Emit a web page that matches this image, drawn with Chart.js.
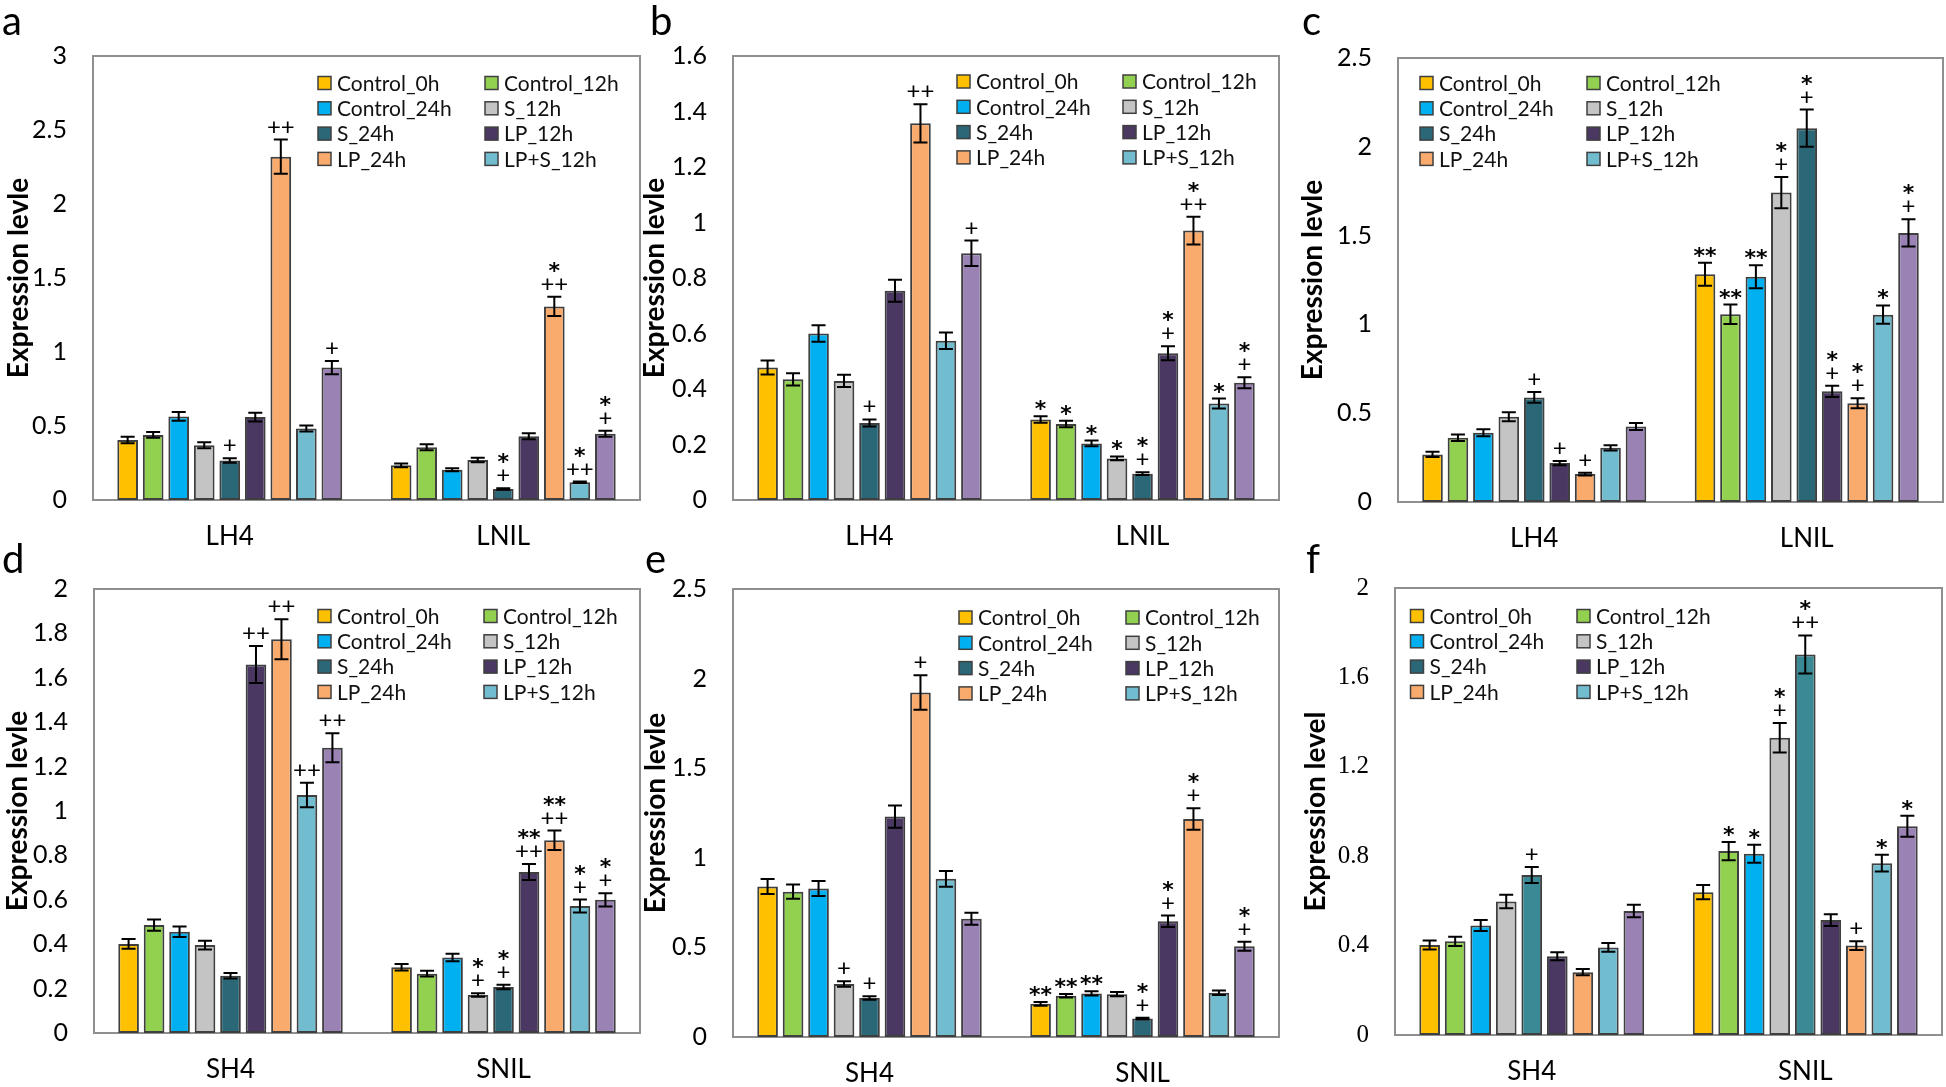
<!DOCTYPE html>
<html>
<head>
<meta charset="utf-8">
<script src="https://cdn.jsdelivr.net/npm/chart.js@4.4.1/dist/chart.umd.min.js"></script>
<style>
  body { margin: 0; background: #fff; width: 1946px; height: 1087px; position: relative; overflow: hidden; }
  .panel { position: absolute; }
  .tag { position: absolute; font: 40px Lato, sans-serif; line-height: 40px; color: #000; }
</style>
</head>
<body>
<script>
// series (9 bars per group, the last one has no legend entry in the original)
const seriesNames = ['Control_0h', 'Control_12h', 'Control_24h', 'S_12h', 'S_24h', 'LP_12h', 'LP_24h', 'LP+S_12h', 'LP+S_24h'];
const seriesColors = ['#FFC000', '#92D050', '#00B0F0', '#C4C4C4', '#2A6878', '#4A3862', '#F9AB6E', '#72BCD0', '#9A82B5'];

// a
const a_cats = ['LH4', 'LNIL'];
const a_ticks = [0, 0.5, 1, 1.5, 2, 2.5, 3];
const a_LH4 = [0.405, 0.44, 0.565, 0.37, 0.267, 0.56, 2.32, 0.483, 0.895];
const a_LH4_err = [0.022, 0.02, 0.03, 0.02, 0.015, 0.03, 0.115, 0.02, 0.045];
const a_LH4_sig = ['', '', '', '', '+', '', '++', '', '+'];
const a_LNIL = [0.234, 0.356, 0.204, 0.27, 0.075, 0.431, 1.308, 0.12, 0.448];
const a_LNIL_err = [0.012, 0.02, 0.01, 0.015, 0.005, 0.02, 0.065, 0.005, 0.02];
const a_LNIL_sig = ['', '', '', '', '*\n+', '', '*\n++', '*\n++', '*\n+'];

// b
const b_cats = ['LH4', 'LNIL'];
const b_ticks = [0, 0.2, 0.4, 0.6, 0.8, 1, 1.2, 1.4, 1.6];
const b_LH4 = [0.4775, 0.435, 0.60, 0.429, 0.2775, 0.754, 1.3575, 0.574, 0.889];
const b_LH4_err = [0.025, 0.022, 0.03, 0.022, 0.013, 0.04, 0.069, 0.03, 0.046];
const b_LH4_sig = ['', '', '', '', '+', '', '++', '', '+'];
const b_LNIL = [0.29, 0.274, 0.204, 0.15, 0.095, 0.529, 0.971, 0.3475, 0.4225];
const b_LNIL_err = [0.012, 0.012, 0.01, 0.007, 0.005, 0.025, 0.05, 0.018, 0.02];
const b_LNIL_sig = ['*', '*', '*', '*', '*\n+', '*\n+', '*\n++', '*', '*\n+'];

// c
const c_cats = ['LH4', 'LNIL'];
const c_ticks = [0, 0.5, 1, 1.5, 2, 2.5];
const c_LH4 = [0.268, 0.362, 0.39, 0.48, 0.589, 0.219, 0.157, 0.305, 0.425];
const c_LH4_err = [0.015, 0.018, 0.02, 0.025, 0.03, 0.012, 0.008, 0.015, 0.02];
const c_LH4_sig = ['', '', '', '', '+', '+', '+', '', ''];
const c_LNIL = [1.282, 1.057, 1.268, 1.742, 2.105, 0.623, 0.556, 1.055, 1.515];
const c_LNIL_err = [0.065, 0.055, 0.065, 0.088, 0.105, 0.032, 0.028, 0.052, 0.077];
const c_LNIL_sig = ['**', '**', '**', '*\n+', '*\n+', '*\n+', '*\n+', '*', '*\n+'];

// d
const d_cats = ['SH4', 'SNIL'];
const d_ticks = [0, 0.2, 0.4, 0.6, 0.8, 1, 1.2, 1.4, 1.6, 1.8, 2];
const d_SH4 = [0.401, 0.486, 0.456, 0.396, 0.258, 1.66, 1.774, 1.072, 1.285];
const d_SH4_err = [0.022, 0.025, 0.024, 0.02, 0.012, 0.083, 0.09, 0.055, 0.065];
const d_SH4_sig = ['', '', '', '', '', '++', '++', '++', '++'];
const d_SNIL = [0.296, 0.267, 0.34, 0.171, 0.2075, 0.725, 0.868, 0.572, 0.6];
const d_SNIL_err = [0.015, 0.013, 0.017, 0.008, 0.01, 0.036, 0.044, 0.029, 0.03];
const d_SNIL_sig = ['', '', '', '*\n+', '*\n+', '**\n++', '**\n++', '*\n+', '*\n+'];

// e
const e_cats = ['SH4', 'SNIL'];
const e_ticks = [0, 0.5, 1, 1.5, 2, 2.5];
const e_SH4 = [0.84, 0.811, 0.829, 0.296, 0.218, 1.23, 1.922, 0.883, 0.66];
const e_SH4_err = [0.042, 0.04, 0.042, 0.015, 0.01, 0.062, 0.096, 0.044, 0.033];
const e_SH4_sig = ['', '', '', '+', '+', '', '+', '', ''];
const e_SNIL = [0.185, 0.23, 0.243, 0.239, 0.103, 0.646, 1.216, 0.247, 0.506];
const e_SNIL_err = [0.01, 0.01, 0.012, 0.012, 0.005, 0.032, 0.06, 0.012, 0.025];
const e_SNIL_sig = ['**', '**', '**', '', '*\n+', '*\n+', '*\n+', '', '*\n+'];

// f
const f_cats = ['SH4', 'SNIL'];
const f_ticks = [0, 0.4, 0.8, 1.2, 1.6, 2];
const f_SH4 = [0.403, 0.419, 0.49, 0.597, 0.716, 0.352, 0.281, 0.392, 0.555];
const f_SH4_err = [0.02, 0.021, 0.025, 0.03, 0.036, 0.018, 0.014, 0.02, 0.028];
const f_SH4_sig = ['', '', '', '', '+', '', '', '', ''];
const f_SNIL = [0.639, 0.823, 0.811, 1.33, 1.703, 0.514, 0.4, 0.769, 0.934];
const f_SNIL_err = [0.032, 0.041, 0.04, 0.066, 0.085, 0.026, 0.02, 0.038, 0.047];
const f_SNIL_sig = ['', '*', '*', '*\n+', '*\n++', '', '+', '*', '*'];

// layout of each panel: plot box in page pixels, y title centre, legend offsets
const panels = [
  { tag: 'a', tagX: 2, tagY: 0, cats: a_cats, ticks: a_ticks, vals: [a_LH4, a_LNIL], errs: [a_LH4_err, a_LNIL_err], sigs: [a_LH4_sig, a_LNIL_sig],
    title: 'Expression levle', box: { l: 93, t: 56, r: 640, b: 500 }, titleX: 19, leg: [225, 392, 27] },
  { tag: 'b', tagX: 650, tagY: 0, cats: b_cats, ticks: b_ticks, vals: [b_LH4, b_LNIL], errs: [b_LH4_err, b_LNIL_err], sigs: [b_LH4_sig, b_LNIL_sig],
    title: 'Expression levle', box: { l: 733, t: 56, r: 1279, b: 500 }, titleX: 655, leg: [224, 390, 25.5] },
  { tag: 'c', tagX: 1302, tagY: 0, cats: c_cats, ticks: c_ticks, vals: [c_LH4, c_LNIL], errs: [c_LH4_err, c_LNIL_err], sigs: [c_LH4_sig, c_LNIL_sig],
    title: 'Expression levle', box: { l: 1398, t: 58, r: 1943, b: 502 }, titleX: 1313, leg: [22, 189, 25] },
  { tag: 'd', tagX: 2, tagY: 538, cats: d_cats, ticks: d_ticks, vals: [d_SH4, d_SNIL], errs: [d_SH4_err, d_SNIL_err], sigs: [d_SH4_sig, d_SNIL_sig],
    title: 'Expression levle', box: { l: 94, t: 589, r: 640, b: 1033 }, titleX: 18, leg: [224, 390, 27] },
  { tag: 'e', tagX: 645, tagY: 538, cats: e_cats, ticks: e_ticks, vals: [e_SH4, e_SNIL], errs: [e_SH4_err, e_SNIL_err], sigs: [e_SH4_sig, e_SNIL_sig],
    title: 'Expression levle', box: { l: 733, t: 589, r: 1279, b: 1037 }, titleX: 656, leg: [226, 393, 28.5] },
  { tag: 'f', tagX: 1306, tagY: 538, cats: f_cats, ticks: f_ticks, vals: [f_SH4, f_SNIL], errs: [f_SH4_err, f_SNIL_err], sigs: [f_SH4_sig, f_SNIL_sig],
    title: 'Expression level', box: { l: 1395, t: 588, r: 1942, b: 1035 }, titleX: 1316, leg: [15.5, 182, 28],
    tickFont: 'Liberation Serif', barColors: { 4: '#3A8A95' } }
];

// top padding must exceed half a tick label plus the tick padding
const PT = 44, PR = 3, XH = 60;

// box, error bars, significance marks and the two-column legend
const decor = {
  id: 'decor',
  beforeDatasetsDraw(chart) {
    const { ctx, chartArea: a } = chart;
    ctx.save();
    ctx.strokeStyle = '#8f8f8f';
    ctx.lineWidth = 2;
    ctx.strokeRect(a.left, a.top, a.right - a.left, a.bottom - a.top);
    ctx.restore();
  },
  afterDatasetsDraw(chart, args, opts) {
    const { ctx, chartArea: a } = chart;
    const y = chart.scales.y;
    ctx.save();
    chart.data.datasets.forEach((ds, i) => {
      const meta = chart.getDatasetMeta(i);
      meta.data.forEach((bar, j) => {
        const v = ds.data[j], e = opts.errs[j][i];
        const top = y.getPixelForValue(v + e), bot = y.getPixelForValue(v - e);
        ctx.strokeStyle = '#000';
        ctx.lineWidth = 2;
        ctx.beginPath();
        ctx.moveTo(bar.x, top); ctx.lineTo(bar.x, bot);
        ctx.moveTo(bar.x - 7, top); ctx.lineTo(bar.x + 7, top);
        ctx.moveTo(bar.x - 7, bot); ctx.lineTo(bar.x + 7, bot);
        ctx.stroke();
        const s = opts.sigs[j][i];
        if (!s) return;
        const lines = s.split('\n').reverse();
        let cy = top;
        ctx.fillStyle = '#000';
        ctx.textAlign = 'center';
        ctx.textBaseline = 'alphabetic';
        lines.forEach((ln, k) => {
          const star = ln.indexOf('*') >= 0;
          cy -= k === 0 ? 13 : 19;
          if (star) {
            ctx.font = 'bold 22px "DejaVu Sans"';
            ctx.fillText(ln, bar.x, cy + 13);
          } else {
            ctx.font = '24px Lato';
            ctx.fillText(ln, bar.x, cy + 8);
          }
        });
      });
    });
    // legend
    const [dx1, dx2, dy] = opts.leg;
    ctx.font = '21px Lato';
    ctx.textAlign = 'left';
    ctx.textBaseline = 'middle';
    for (let i = 0; i < 8; i++) {
      const x = a.left + (i % 2 ? dx2 : dx1);
      const yy = a.top + dy + Math.floor(i / 2) * 25.3;
      ctx.fillStyle = seriesColors[i];
      ctx.fillRect(x, yy - 6.5, 13, 13);
      ctx.strokeStyle = '#3f3f3f';
      ctx.lineWidth = 1.5;
      ctx.strokeRect(x, yy - 6.5, 13, 13);
      ctx.fillStyle = '#111';
      ctx.fillText(seriesNames[i], x + 19, yy + 1);
    }
    ctx.restore();
  }
};

panels.forEach(p => {
  const left = p.titleX - 18;
  const yw = p.box.l - left;
  const w = yw + (p.box.r - p.box.l) + PR;
  const h = PT + (p.box.b - p.box.t) + XH;

  const div = document.createElement('div');
  div.className = 'panel';
  div.style.left = left + 'px';
  div.style.top = (p.box.t - PT) + 'px';
  const cv = document.createElement('canvas');
  cv.width = w; cv.height = h;
  div.appendChild(cv);
  document.body.appendChild(div);

  const tag = document.createElement('div');
  tag.className = 'tag';
  tag.style.left = p.tagX + 'px';
  tag.style.top = p.tagY + 'px';
  tag.textContent = p.tag;
  document.body.appendChild(tag);

  const datasets = seriesNames.map((name, i) => ({
    label: name,
    data: [p.vals[0][i], p.vals[1][i]],
    backgroundColor: (p.barColors && p.barColors[i]) || seriesColors[i],
    borderColor: '#3f3f3f',
    borderWidth: 2,
    borderSkipped: false,
    categoryPercentage: 0.84,
    barPercentage: 0.81
  }));

  new Chart(cv, {
    type: 'bar',
    data: { labels: p.cats, datasets: datasets },
    options: {
      responsive: false,
      animation: false,
      devicePixelRatio: 1,
      layout: { padding: { top: PT, right: PR, left: 0, bottom: 0 } },
      plugins: {
        legend: { display: false },
        tooltip: { enabled: false },
        decor: { errs: p.errs, sigs: p.sigs, leg: p.leg }
      },
      scales: {
        x: {
          grid: { display: false, drawTicks: false },
          border: { display: false },
          ticks: { padding: 21, color: '#000', font: { family: 'Lato', size: 26 } },
          afterFit: s => { s.height = XH; }
        },
        y: {
          min: 0,
          max: p.ticks[p.ticks.length - 1],
          grid: { display: false, drawTicks: false },
          border: { display: false },
          ticks: {
            padding: 26, color: '#000',
            font: { family: p.tickFont || 'Lato', size: 25 },
            callback: v => String(v)
          },
          afterBuildTicks: s => { s.ticks = p.ticks.map(v => ({ value: v })); },
          title: {
            display: true, text: p.title, color: '#000',
            font: { family: 'Lato', size: 28, weight: 'bold' },
            padding: { top: 1.2, bottom: 0 }
          },
          afterFit: s => { s.width = yw; }
        }
      }
    },
    plugins: [decor]
  });
});
</script>
</body>
</html>
